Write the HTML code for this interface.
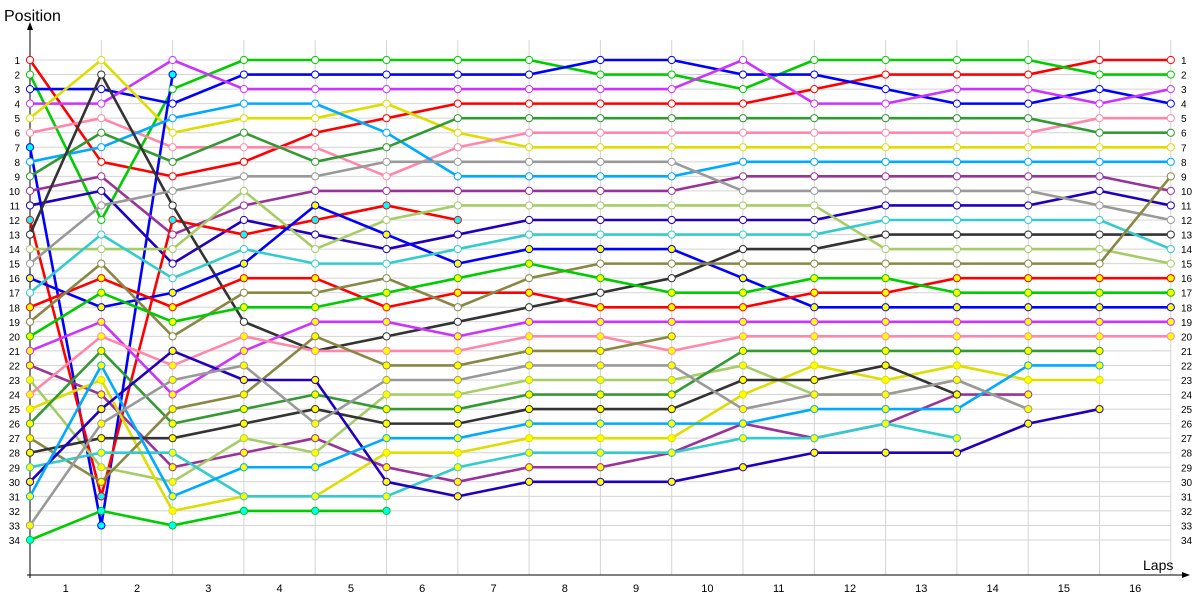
<!DOCTYPE html>
<html><head><meta charset="utf-8"><style>
html,body{margin:0;padding:0;background:#fff;}
svg{display:block;font-family:"Liberation Sans",sans-serif;}
</style></head><body>
<svg id="c" width="1200" height="600" xmlns="http://www.w3.org/2000/svg"></svg>
<script>
const S=document.getElementById('c');
const X=i=>30+i*71.3, Y=p=>60+(p-1)*14.545;
let h='';
for(let p=1;p<=34;p++){h+=`<line x1="30" y1="${Y(p)}" x2="1171" y2="${Y(p)}" stroke="#d4d4d4"/>`;
h+=`<text x="20" y="${Y(p)+4}" font-size="10" text-anchor="end">${p}</text><text x="1181" y="${Y(p)+4}" font-size="10">${p}</text>`;}
for(let i=1;i<=16;i++){h+=`<line x1="${X(i)}" y1="40" x2="${X(i)}" y2="575" stroke="#d4d4d4"/>`;
h+=`<text x="${X(i)-35.6}" y="592" font-size="11" text-anchor="middle">${i}</text>`;}
h+=`<line x1="30" y1="25" x2="30" y2="578" stroke="#000"/><line x1="27" y1="575" x2="1185" y2="575" stroke="#000"/>`;
h+=`<path d="M30 22 L27 30 L33 30Z"/><path d="M1190 575 L1182 572 L1182 578Z"/>`;
h+=`<text x="4" y="21" font-size="16">Position</text><text x="1143" y="570" font-size="14">Laps</text>`;
const D=[
['#ff0000','#fff',[1,8,9,8,6,5,4,4,4,4,4,3,2,2,2,1,1]],
['#00cc00','#fff',[2,12,3,1,1,1,1,1,2,2,3,1,1,1,1,2,2]],
['#0000ff','#fff',[3,3,4,2,2,2,2,2,1,1,2,2,3,4,4,3,4]],
['#cc33ff','#fff',[4,4,1,3,3,3,3,3,3,3,1,4,4,3,3,4,3]],
['#dddd00','#fff',[5,1,6,5,5,4,6,7,7,7,7,7,7,7,7,7,7]],
['#ff88aa','#fff',[6,5,7,7,7,9,7,6,6,6,6,6,6,6,6,5,5]],
['#0000ff','#00ffff',[7,33,2]],
['#00aaff','#fff',[8,7,5,4,4,6,9,9,9,9,8,8,8,8,8,8,8]],
['#339933','#fff',[9,6,8,6,8,7,5,5,5,5,5,5,5,5,5,6,6]],
['#993399','#fff',[10,9,13,11,10,10,10,10,10,10,9,9,9,9,9,9,10]],
['#2200bb','#fff',[11,10,15,12,13,14,13,12,12,12,12,12,11,11,11,10,11]],
['#ff0000','#00ffff',[12,31,12,13,12,11,12]],
['#333333','#fff',[13,2,11,19,21,20,19,18,17,16,14,14,13,13,13,13,13]],
['#a6cc66','#fff',[14,14,14,10,14,12,11,11,11,11,11,11,14,14,14,14,15]],
['#999999','#fff',[15,11,10,9,9,8,8,8,8,8,10,10,10,10,10,11,12]],
['#0000ff','#ffff00',[16,18,17,15,11,13,15,14,14,14,16,18,18,18,18,18,18]],
['#33cccc','#fff',[17,13,16,14,15,15,14,13,13,13,13,13,12,12,12,12,14]],
['#ff0000','#ffff00',[18,16,18,16,16,18,17,17,18,18,18,17,17,16,16,16,16]],
['#888844','#fff',[19,15,20,17,17,16,18,16,15,15,15,15,15,15,15,15,9]],
['#00cc00','#ffff00',[20,17,19,18,18,17,16,15,16,17,17,16,16,17,17,17,17]],
['#cc33ff','#ffff00',[21,19,24,21,19,19,20,19,19,19,19,19,19,19,19,19,19]],
['#993399','#ffff00',[22,24,29,28,27,29,30,29,29,28,26,27,26,24,24]],
['#a6cc66','#ffff00',[23,29,30,27,28,24,24,23,23,23,22,24,24,23,25]],
['#ff88aa','#ffff00',[24,20,22,20,21,21,21,20,20,21,20,20,20,20,20,20,20]],
['#dddd00','#ffff00',[25,23,32,31,31,28,28,27,27,27,24,22,23,22,23,23]],
['#339933','#ffff00',[26,21,26,25,24,25,25,24,24,24,21,21,21,21,21,21]],
['#888844','#ffff00',[27,30,25,24,20,22,22,21,21,20]],
['#333333','#ffff00',[28,27,27,26,25,26,26,25,25,25,23,23,22,24]],
['#33cccc','#ffff00',[29,28,28,31,31,31,29,28,28,28,27,27,26,27]],
['#2200bb','#ffff00',[30,25,21,23,23,30,31,30,30,30,29,28,28,28,26,25]],
['#00aaff','#ffff00',[31,22,31,29,29,27,27,26,26,26,26,25,25,25,22,22]],
['#999999','#ffff00',[33,26,23,22,26,23,23,22,22,22,25,24,24,23,25]],
['#00cc00','#00ffff',[34,32,33,32,32,32]]
];
for(const [c,f,a] of D){h+=`<polyline fill="none" stroke="${c}" stroke-width="2.6" stroke-linejoin="round" points="${a.map((p,i)=>X(i)+','+Y(p)).join(' ')}"/>`;}
for(const [c,f,a] of D){a.forEach((p,i)=>{h+=`<circle cx="${X(i)}" cy="${Y(p)}" r="3.6" fill="${f}" stroke="${c}" stroke-width="1"/>`;});}
S.innerHTML=h;
</script>
</body></html>
